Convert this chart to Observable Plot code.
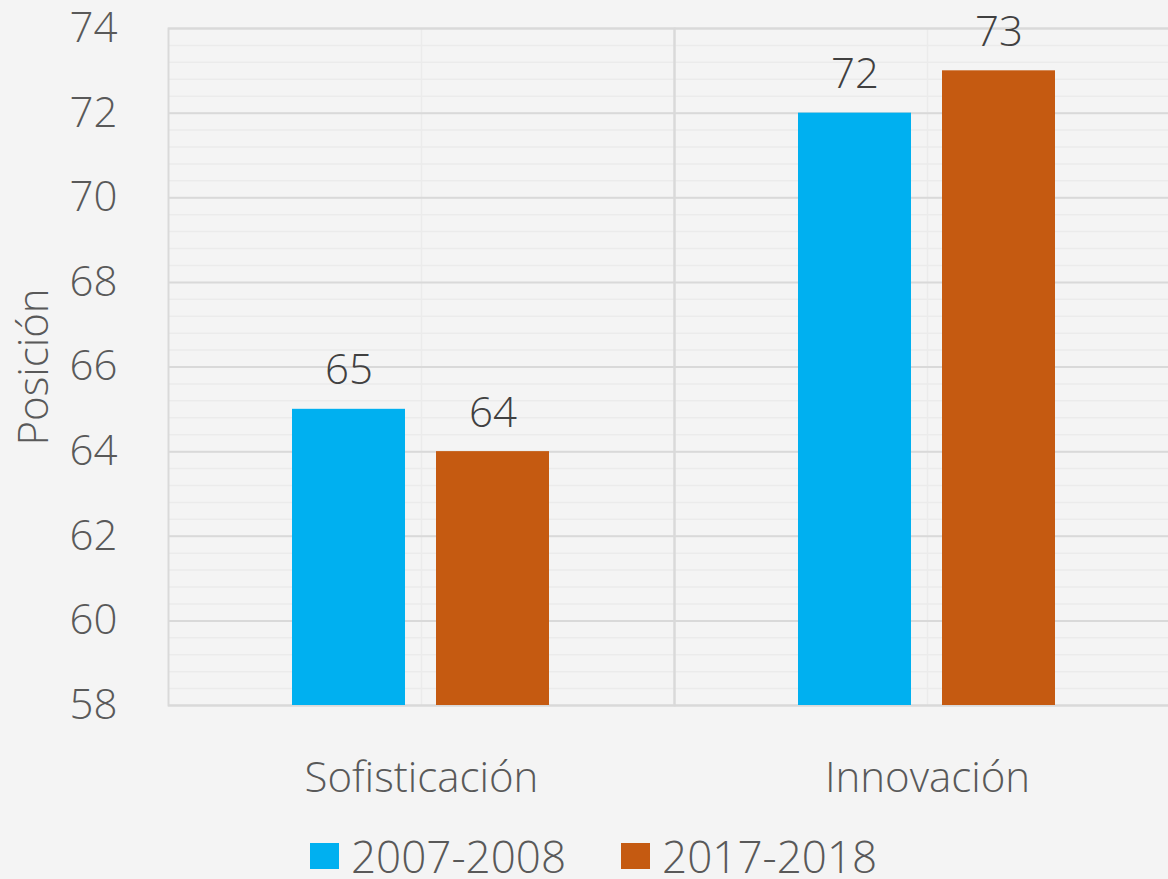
<!DOCTYPE html>
<html>
<head>
<meta charset="utf-8">
<script src="https://cdn.jsdelivr.net/npm/d3@7"></script>
<script src="https://cdn.jsdelivr.net/npm/@observablehq/plot@0.6"></script>
<style>
  html, body { margin: 0; padding: 0; background: #f4f4f4; overflow: hidden; }
  body { font-family: "Open Sans", "Noto Sans", sans-serif; }
  #legend { display: flex; align-items: center; height: 56px; padding-top: 8px; padding-left: 310px; box-sizing: content-box; }
  .item { display: flex; align-items: center; margin-right: 55px; }
  .swatch { width: 29px; height: 26px; margin-right: 12px; }
  .lab { font-size: 44px; font-weight: 300; color: #595959; line-height: 1; }
</style>
</head>
<body>
<div id="chart"></div>
<div id="legend"></div>
<script>
const categories = ["Sofisticación", "Innovación"];
const series = ["2007-2008", "2017-2018"];
const values2007 = [65, 72];
const values2017 = [64, 73];
const colors = ["#00b0f0", "#c55a11"];
const yTicks = [58, 60, 62, 64, 66, 68, 70, 72, 74];
const yMinorTicks = d3.range(58, 74.001, 0.4);
const yMin = 58, yMax = 74;
const yLabel = "Posición";

const data = categories.flatMap((c, i) => [
  {category: c, series: series[0], value: values2007[i]},
  {category: c, series: series[1], value: values2017[i]}
]);

const chart = Plot.plot({
  width: 1168,
  height: 820,
  marginLeft: 167,
  marginRight: -12,
  marginTop: 28,
  marginBottom: 115,
  style: {background: "#f4f4f4", fontFamily: "'Open Sans', 'Noto Sans', sans-serif", fontSize: "42px", fontWeight: 300, color: "#595959"},
  fx: {domain: categories, padding: 0, label: null},
  x: {domain: series, paddingInner: 0.214, paddingOuter: 0.852, axis: null},
  y: {domain: [yMin, yMax], label: null},
  color: {domain: series, range: colors},
  marks: [
    Plot.ruleY(yMinorTicks, {stroke: "#ebebeb", strokeWidth: 1.5}),
    Plot.ruleX(categories, {fx: d => d, x: null, stroke: "#ebebeb", strokeWidth: 1.5}),
    Plot.ruleY(yTicks, {stroke: "#d9d9d9", strokeWidth: 2}),
    Plot.frame({stroke: "#d9d9d9", strokeWidth: 2}),
    Plot.barY(data, {fx: "category", x: "series", y1: yMin, y2: "value", fill: "series"}),
    Plot.text(data, {fx: "category", x: "series", y: "value", text: d => String(d.value), lineAnchor: "bottom", dy: -25, fill: "#404040", fontSize: 42}),
    Plot.axisY({ticks: yTicks, tickSize: 0, tickPadding: 51, label: yLabel, labelArrow: "none", labelAnchor: "center", labelOffset: 150, fontSize: 42}),
    Plot.axisFx({anchor: "bottom", tickSize: 0, tickPadding: 57, label: null, fontSize: 42})
  ]
});
document.getElementById("chart").append(chart);

const legend = document.getElementById("legend");
series.forEach((s, i) => {
  const item = document.createElement("div");
  item.className = "item";
  const sw = document.createElement("div");
  sw.className = "swatch";
  sw.style.background = colors[i];
  const lab = document.createElement("span");
  lab.className = "lab";
  lab.textContent = s;
  item.append(sw, lab);
  legend.append(item);
});
</script>
</body>
</html>
